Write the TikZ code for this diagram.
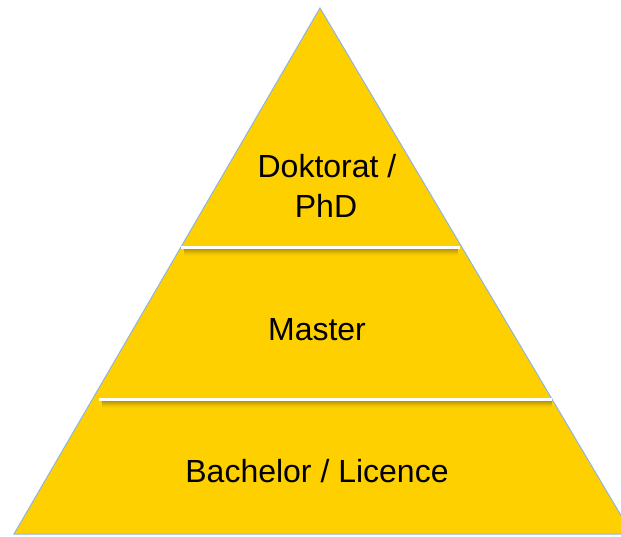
\documentclass[tikz,border=0pt]{standalone}
\usepackage{fontspec}
\setmainfont{Liberation Sans}
\definecolor{pyrfill}{HTML}{FFD000}
\definecolor{pyredge}{HTML}{8EB4E3}
\definecolor{shadowc}{HTML}{8C7000}
\tikzset{
  lbl/.style={anchor=base, font=\fontsize{32}{40}\selectfont, text=black, inner sep=0pt},
  sepline/.style={draw=white, line width=3pt},
  shad/.style={draw=shadowc, line width=1pt},
}
\begin{document}
\begin{tikzpicture}[x=1pt,y=-1pt]
\useasboundingbox (0,0) rectangle (621,536);
\begin{scope}
\clip (0,0) rectangle (621,536);
\coordinate (apex) at (320,8);
\coordinate (bl) at (14,534);
\coordinate (br) at (632,534);
\draw[fill=pyrfill, draw=pyredge, line width=1pt] (apex) -- (bl) -- (br) -- cycle;
% shadows under separator lines
\foreach \d/\o in {2/0.6,3/0.5,4/0.38,5/0.27,6/0.17,7/0.09,8/0.04}{
  \draw[shad, draw opacity=\o] (184,247+\d) -- (458,247+\d);
  \draw[shad, draw opacity=\o] (102,399+\d) -- (552,399+\d);
}
\coordinate (s1a) at (181,247);
\coordinate (s1b) at (460,247);
\coordinate (s2a) at (99,399);
\coordinate (s2b) at (552,399);
\draw[sepline] (s1a) -- (s1b);
\draw[sepline] (s2a) -- (s2b);
\end{scope}
\node[lbl] (doc) at (327,177) {Doktorat /};
\node[lbl] (phd) at (326,217) {PhD};
\node[lbl] (mas) at (317,340) {Master};
\node[lbl] (bac) at (317,482) {Bachelor / Licence};
\end{tikzpicture}
\end{document}
